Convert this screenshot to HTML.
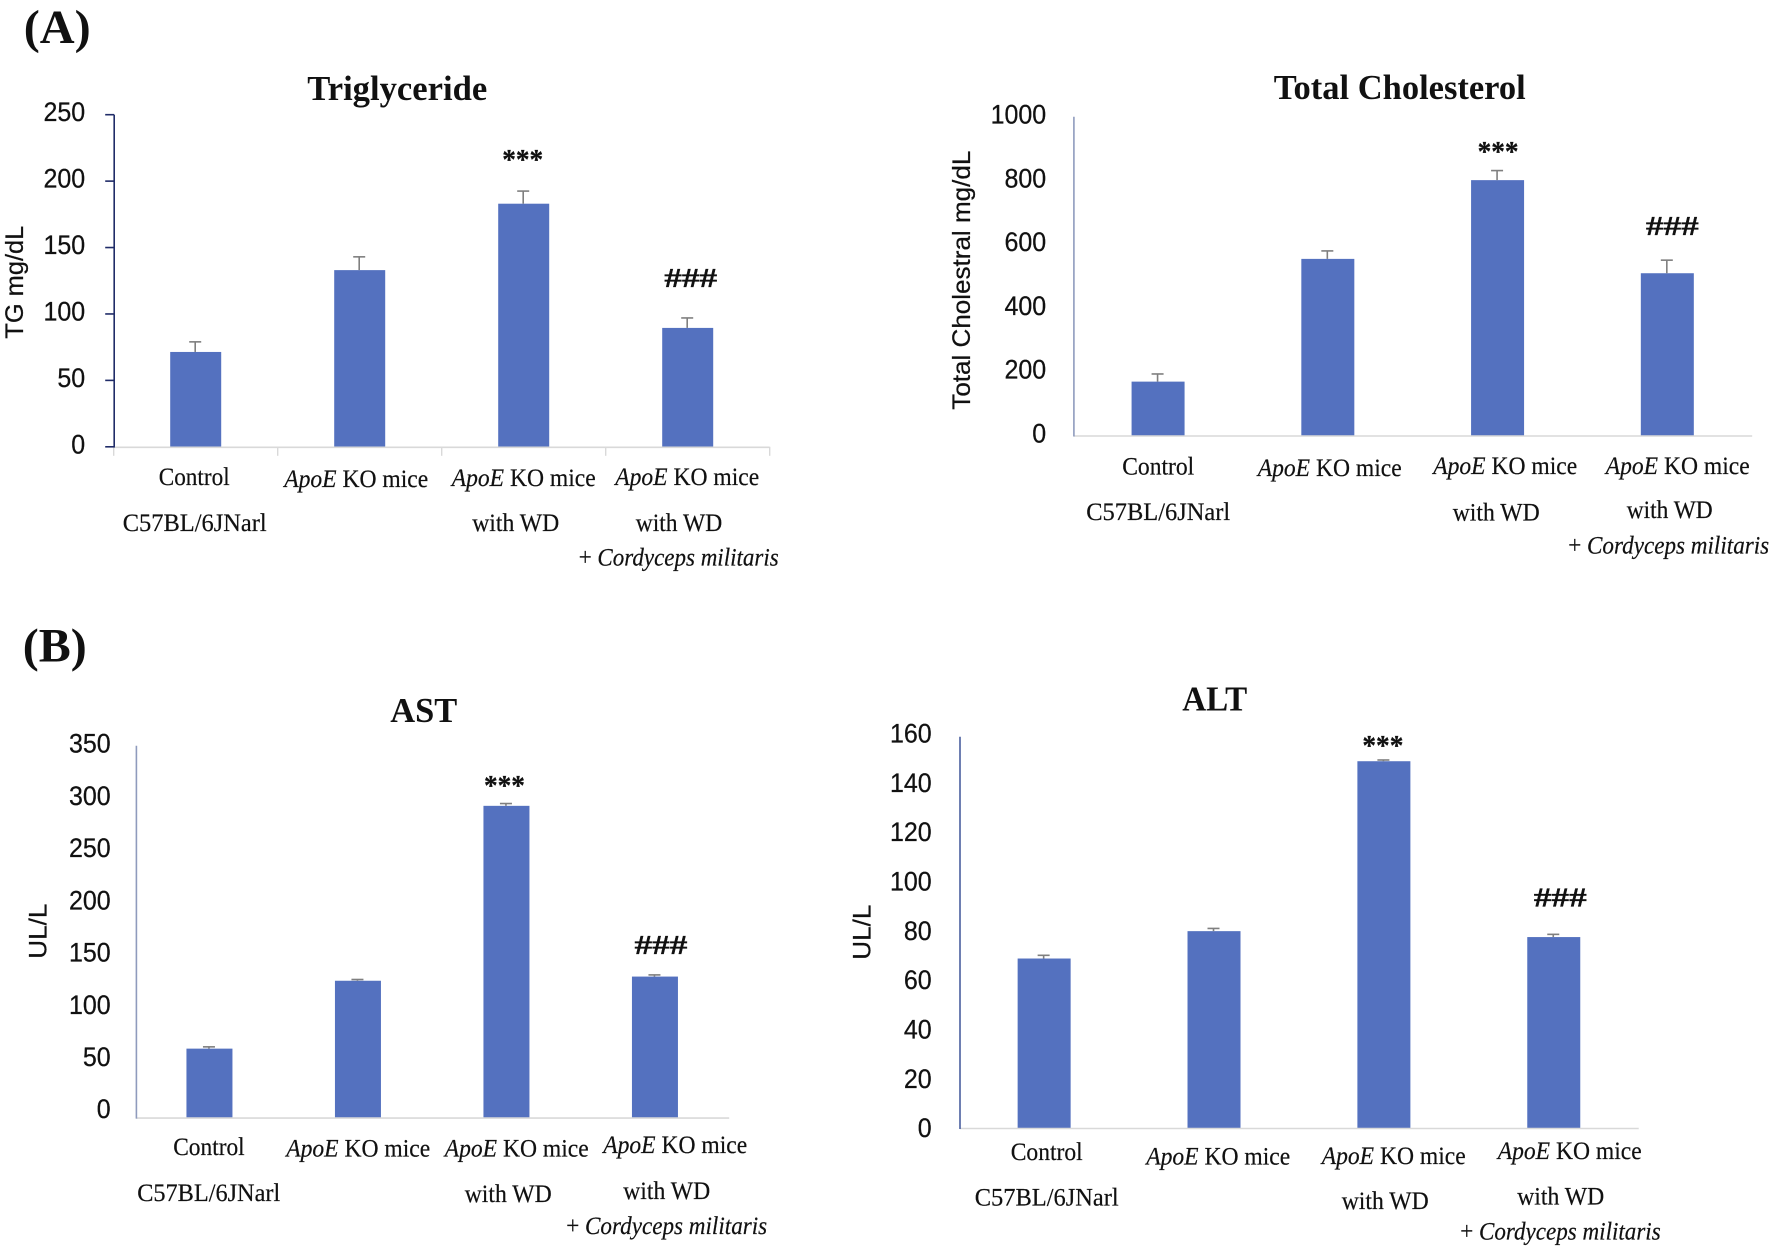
<!DOCTYPE html>
<html lang="en">
<head>
<meta charset="utf-8">
<title>Serum lipid and liver enzyme bar charts</title>
<style>
html,body{margin:0;padding:0;background:#fff;}
svg{display:block;}
.serif{font-family:"Liberation Serif",serif;fill:#111;}
.cat{font-size:25px;stroke:#111;stroke-width:.2px;}
.title{font-size:35px;font-weight:bold;}
.panel{font-size:48px;font-weight:bold;}
.tick{font-family:"Liberation Sans",sans-serif;font-size:27px;fill:#111;text-anchor:end;stroke:#111;stroke-width:.25px;}
.ytitle{font-family:"Liberation Sans",sans-serif;font-size:25px;fill:#111;text-anchor:middle;stroke:#111;stroke-width:.25px;}
.sig{font-family:"Liberation Serif",serif;font-weight:bold;fill:#111;text-anchor:middle;stroke:#111;stroke-width:.3px;}
.it{font-style:italic;}
</style>
</head>
<body>
<svg id="figure" width="1772" height="1254" viewBox="0 0 1772 1254" xmlns="http://www.w3.org/2000/svg">
<rect width="1772" height="1254" fill="#fff"/>
<g transform="translate(-1.8 -1.8)">

<text class="serif panel" x="25.5" y="45" textLength="67" lengthAdjust="spacingAndGlyphs">(A)</text>
<text class="serif panel" x="24.5" y="663.5" textLength="64" lengthAdjust="spacingAndGlyphs">(B)</text>

<text class="serif title" x="309" y="101.7" textLength="180" lengthAdjust="spacingAndGlyphs">Triglyceride</text>
<text class="serif title" x="1275.5" y="100.7" textLength="252" lengthAdjust="spacingAndGlyphs">Total Cholesterol</text>
<text class="serif title" x="392" y="723.7" textLength="67" lengthAdjust="spacingAndGlyphs">AST</text>
<text class="serif title" x="1184" y="712.2" textLength="65" lengthAdjust="spacingAndGlyphs">ALT</text>

<g>
<text class="serif cat" x="160.5" y="487" textLength="71" lengthAdjust="spacingAndGlyphs">Control</text>
<text class="serif cat" x="124.5" y="533" textLength="144" lengthAdjust="spacingAndGlyphs">C57BL/6JNarl</text>
<text class="serif cat" x="286" y="489" textLength="144" lengthAdjust="spacingAndGlyphs"><tspan class="it">ApoE</tspan> KO mice</text>
<text class="serif cat" x="453.5" y="488" textLength="144" lengthAdjust="spacingAndGlyphs"><tspan class="it">ApoE</tspan> KO mice</text>
<text class="serif cat" x="474" y="533" textLength="87" lengthAdjust="spacingAndGlyphs">with WD</text>
<text class="serif cat" x="617" y="487" textLength="144" lengthAdjust="spacingAndGlyphs"><tspan class="it">ApoE</tspan> KO mice</text>
<text class="serif cat" x="637.5" y="533" textLength="86.5" lengthAdjust="spacingAndGlyphs">with WD</text>
<text class="serif cat" x="580.5" y="567.5" textLength="200" lengthAdjust="spacingAndGlyphs">+ <tspan class="it">Cordyceps militaris</tspan></text>
</g>

<g>
<text class="serif cat" x="1124" y="476.5" textLength="72" lengthAdjust="spacingAndGlyphs">Control</text>
<text class="serif cat" x="1088" y="522" textLength="144" lengthAdjust="spacingAndGlyphs">C57BL/6JNarl</text>
<text class="serif cat" x="1259.5" y="478" textLength="144" lengthAdjust="spacingAndGlyphs"><tspan class="it">ApoE</tspan> KO mice</text>
<text class="serif cat" x="1435" y="476" textLength="144" lengthAdjust="spacingAndGlyphs"><tspan class="it">ApoE</tspan> KO mice</text>
<text class="serif cat" x="1454.5" y="522.5" textLength="87" lengthAdjust="spacingAndGlyphs">with WD</text>
<text class="serif cat" x="1607.5" y="476" textLength="144" lengthAdjust="spacingAndGlyphs"><tspan class="it">ApoE</tspan> KO mice</text>
<text class="serif cat" x="1628.5" y="520" textLength="86" lengthAdjust="spacingAndGlyphs">with WD</text>
<text class="serif cat" x="1570" y="555.5" textLength="201" lengthAdjust="spacingAndGlyphs">+ <tspan class="it">Cordyceps militaris</tspan></text>
</g>

<g>
<text class="serif cat" x="175" y="1157" textLength="71.5" lengthAdjust="spacingAndGlyphs">Control</text>
<text class="serif cat" x="139" y="1203" textLength="143" lengthAdjust="spacingAndGlyphs">C57BL/6JNarl</text>
<text class="serif cat" x="288" y="1158.5" textLength="144" lengthAdjust="spacingAndGlyphs"><tspan class="it">ApoE</tspan> KO mice</text>
<text class="serif cat" x="446.5" y="1158.5" textLength="144" lengthAdjust="spacingAndGlyphs"><tspan class="it">ApoE</tspan> KO mice</text>
<text class="serif cat" x="466.5" y="1204" textLength="87" lengthAdjust="spacingAndGlyphs">with WD</text>
<text class="serif cat" x="605" y="1155" textLength="144" lengthAdjust="spacingAndGlyphs"><tspan class="it">ApoE</tspan> KO mice</text>
<text class="serif cat" x="625" y="1201" textLength="87" lengthAdjust="spacingAndGlyphs">with WD</text>
<text class="serif cat" x="568" y="1236" textLength="201" lengthAdjust="spacingAndGlyphs">+ <tspan class="it">Cordyceps militaris</tspan></text>
</g>

<g>
<text class="serif cat" x="1012.5" y="1162" textLength="72" lengthAdjust="spacingAndGlyphs">Control</text>
<text class="serif cat" x="976.5" y="1207.5" textLength="144" lengthAdjust="spacingAndGlyphs">C57BL/6JNarl</text>
<text class="serif cat" x="1148" y="1166.5" textLength="144" lengthAdjust="spacingAndGlyphs"><tspan class="it">ApoE</tspan> KO mice</text>
<text class="serif cat" x="1323.5" y="1166" textLength="144" lengthAdjust="spacingAndGlyphs"><tspan class="it">ApoE</tspan> KO mice</text>
<text class="serif cat" x="1343.5" y="1211" textLength="87" lengthAdjust="spacingAndGlyphs">with WD</text>
<text class="serif cat" x="1499.5" y="1161" textLength="144" lengthAdjust="spacingAndGlyphs"><tspan class="it">ApoE</tspan> KO mice</text>
<text class="serif cat" x="1519" y="1206.5" textLength="87" lengthAdjust="spacingAndGlyphs">with WD</text>
<text class="serif cat" x="1462" y="1241.5" textLength="200.5" lengthAdjust="spacingAndGlyphs">+ <tspan class="it">Cordyceps militaris</tspan></text>
</g>

<text class="ytitle" transform="translate(25 284) rotate(-90)" textLength="113" lengthAdjust="spacingAndGlyphs">TG mg/dL</text>
<text class="ytitle" transform="translate(972 282) rotate(-90)" textLength="259" lengthAdjust="spacingAndGlyphs">Total Cholestral mg/dL</text>
<text class="ytitle" transform="translate(48.5 933) rotate(-90)" textLength="55" lengthAdjust="spacingAndGlyphs">UL/L</text>
<text class="ytitle" transform="translate(872.5 934) rotate(-90)" textLength="55" lengthAdjust="spacingAndGlyphs">UL/L</text>

<g id="plots"></g>
</g>
</svg>

<script>
const categories = ["Control C57BL/6JNarl", "ApoE KO mice", "ApoE KO mice with WD", "ApoE KO mice with WD + Cordyceps militaris"];
const sigMarks = ["", "", "***", "###"];

const tgValues = [71.4, 133, 183, 89.5];
const tgErrors = [7.6, 10, 9.5, 7.5];
const tgTicks = [0, 50, 100, 150, 200, 250];

const cholValues = [169, 554, 801, 509];
const cholErrors = [24, 25, 30, 41];
const cholTicks = [0, 200, 400, 600, 800, 1000];

const astValues = [58, 123, 290.5, 127];
const astErrors = [1.7, 1.2, 2.2, 1.6];
const astTicks = [0, 50, 100, 150, 200, 250, 300, 350];

const altValues = [68.8, 79.9, 148.8, 77.5];
const altErrors = [1.3, 1.1, 0.5, 1.1];
const altTicks = [0, 20, 40, 60, 80, 100, 120, 140, 160];

const SVG_NS = "http://www.w3.org/2000/svg";
const plotsRoot = document.getElementById("plots");

function make(tag, attrs, parent) {
  const el = document.createElementNS(SVG_NS, tag);
  for (const key in attrs) el.setAttribute(key, attrs[key]);
  parent.appendChild(el);
  return el;
}

function drawChart(cfg) {
  const group = make("g", {}, plotsRoot);
  
  

  const maxValue = cfg.ticks[cfg.ticks.length - 1];
  const yScale = function (v) { return cfg.zeroY + (cfg.maxY - cfg.zeroY) * v / maxValue; };
  const band = (cfg.x1 - cfg.x0) / cfg.values.length;
  const xCenter = function (i) { return cfg.x0 + (i + 0.5) * band; };
  const axisX = cfg.x0 + cfg.axisDx;

  cfg.values.forEach(function (value, i) {
    const topY = yScale(value);
    const bar = make("rect", {
      x: xCenter(i) - cfg.barWidth / 2,
      y: topY,
      width: cfg.barWidth,
      height: cfg.baseY - topY,
      fill: "#5471bf"
    }, group);
    
    

    const errY = yScale(value + cfg.errors[i]);
    const stem = make("line", {
      x1: xCenter(i) - 0.5, x2: xCenter(i) - 0.5, y1: topY, y2: errY,
      stroke: "#7f7f7f", "stroke-width": 1.6
    }, group);
    
    

    const cap = make("line", {
      x1: xCenter(i) - 6.5, x2: xCenter(i) + 5.5, y1: errY, y2: errY,
      stroke: "#7f7f7f", "stroke-width": 1.6
    }, group);
    
    

    if (sigMarks[i]) {
      const isHash = sigMarks[i] === "###";
      const centerY = errY - cfg.sigGap[i];
      const sig = make("text", {
        "class": "sig",
        x: xCenter(i) + cfg.sigDx[i],
        y: centerY + (isHash ? 9 : 13),
        "font-size": isHash ? 27 : 28,
        textLength: isHash ? 53 : 41,
        lengthAdjust: "spacingAndGlyphs"
      }, group);
      sig.textContent = sigMarks[i];
      
      
    }
  });

  const baseLine = make("line", {
    x1: axisX, x2: cfg.x1, y1: cfg.baseY + 0.5, y2: cfg.baseY + 0.5,
    stroke: "#d9d9d9", "stroke-width": 1.6
  }, group);
  
  

  const axisLine = make("line", {
    x1: axisX, x2: axisX, y1: cfg.axisTop, y2: cfg.baseY + 1,
    stroke: cfg.axisColor, "stroke-width": 1.6
  }, group);
  
  

  if (cfg.tickMarks) {
    for (let i = 0; i <= cfg.values.length; i++) {
      const xTick = make("line", {
        x1: cfg.x0 + i * band, x2: cfg.x0 + i * band, y1: cfg.baseY, y2: cfg.baseY + 9,
        stroke: "#d9d9d9", "stroke-width": 1.4
      }, group);
      
      
    }
  }

  cfg.ticks.forEach(function (tick) {
    if (cfg.tickMarks) {
      const yTick = make("line", {
        x1: axisX - 9, x2: axisX, y1: yScale(tick), y2: yScale(tick),
        stroke: cfg.axisColor, "stroke-width": 1.6
      }, group);
      
      
    }
    const label = make("text", {
      "class": "tick",
      x: cfg.labelRight,
      y: yScale(tick) + cfg.labelDy + 9,
      textLength: String(tick).length * 13.9,
      lengthAdjust: "spacingAndGlyphs"
    }, group);
    label.textContent = tick;
    
    
  });
}

drawChart({
  name: "triglyceride", values: tgValues, errors: tgErrors, ticks: tgTicks,
  x0: 115.5, x1: 771.5, zeroY: 448.6, maxY: 116.5, baseY: 448.6, axisTop: 116.5,
  barWidth: 51, labelRight: 87, labelDy: -2.5, axisColor: "#202c68", axisDx: 0.5, tickMarks: true,
  sigGap: [0, 0, 35, 40], sigDx: [0, 0, -1, 3]
});
drawChart({
  name: "cholesterol", values: cholValues, errors: cholErrors, ticks: cholTicks,
  x0: 1075, x1: 1754, zeroY: 437.3, maxY: 118.5, baseY: 437.3, axisTop: 118.5,
  barWidth: 53, labelRight: 1048, labelDy: -2, axisColor: "#8f9bbd", axisDx: 0.7, tickMarks: false,
  sigGap: [0, 0, 22.5, 34], sigDx: [0, 0, 0.5, 5]
});
drawChart({
  name: "ast", values: astValues, errors: astErrors, ticks: astTicks,
  x0: 137, x1: 731, zeroY: 1111, maxY: 745.5, baseY: 1119.4, axisTop: 747.5,
  barWidth: 46, labelRight: 112.5, labelDy: 0, axisColor: "#8f9bbd", axisDx: 1.2, tickMarks: false,
  sigGap: [0, 0, 21.7, 30], sigDx: [0, 0, -2, 6]
});
drawChart({
  name: "alt", values: altValues, errors: altErrors, ticks: altTicks,
  x0: 961, x1: 1640.5, zeroY: 1130, maxY: 735.4, baseY: 1129.8, axisTop: 738.6,
  barWidth: 53, labelRight: 933.5, labelDy: 0, axisColor: "#4a5f9e", axisDx: 0.8, tickMarks: false,
  sigGap: [0, 0, 18, 37], sigDx: [0, 0, -1, 6.5]
});
</script>
</body>
</html>
